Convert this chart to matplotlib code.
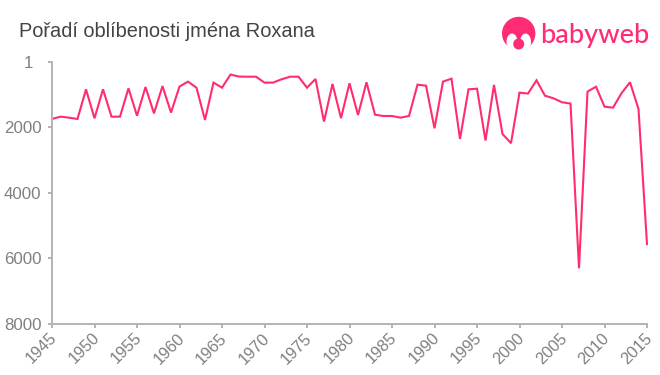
import matplotlib
matplotlib.use("Agg")
import matplotlib.pyplot as plt
from matplotlib.patches import Circle, Ellipse, Rectangle
from matplotlib.transforms import ScaledTranslation

title = "Pořadí oblíbenosti jména Roxana"
brand = "babyweb"
years = list(range(1945, 2016))
ranks = [1740, 1670, 1700, 1740, 835, 1720, 835, 1670, 1670, 805,
         1640, 765, 1570, 735, 1545, 750, 600, 785, 1770, 630,
         785, 385, 445, 450, 450, 630, 630, 530, 450, 450,
         785, 520, 1820, 670, 1715, 650, 1620, 620, 1610, 1650,
         1650, 1700, 1650, 693, 723, 2025, 600, 510, 2350, 835,
         815, 2400, 700, 2200, 2480, 935, 965, 560, 1030, 1110,
         1230, 1270, 6300, 905, 755, 1365, 1395, 955, 620, 1435,
         5560]
y_ticks = [1, 2000, 4000, 6000, 8000]
x_ticks = list(range(1945, 2016, 5))

PINK = "#ff2d6d"
LOGO = "#ff2b77"
GREY = "#b3b3b3"
LABEL = "#808080"
W, H = 660, 375

plt.rcParams["font.family"] = ["Liberation Sans", "DejaVu Sans"]
fig = plt.figure(figsize=(W / 100, H / 100), dpi=100)
ax = fig.add_axes([52 / W, 1 - 324 / H, (647 - 52) / W, (324 - 62) / H])
ax.plot(years, ranks, color=PINK, lw=1.5, solid_joinstyle="miter", clip_on=False)
ax.set_xlim(1945, 2015)
ax.set_ylim(8000, 1)
ax.set_yticks(y_ticks)
ax.set_yticklabels([str(v) for v in y_ticks], fontsize=12.2, color=LABEL)
ax.set_xticks(x_ticks)
ax.set_xticklabels([str(v) for v in x_ticks], fontsize=11.8, color=LABEL,
                   rotation=45, ha="right", rotation_mode="anchor")
ax.tick_params(axis="both", color=GREY, width=1.4, length=3, pad=3)
ax.tick_params(axis="y", pad=4.5)
ax.tick_params(axis="x", pad=1.5)
shift = ScaledTranslation(-2 / 72, 0, fig.dpi_scale_trans)
for lab in ax.get_xticklabels():
    lab.set_transform(lab.get_transform() + shift)
first = ax.get_yticklabels()[0]
first.set_transform(first.get_transform() + ScaledTranslation(-6 / 72, 0, fig.dpi_scale_trans))
for side in ("top", "right"):
    ax.spines[side].set_visible(False)
for side in ("left", "bottom"):
    ax.spines[side].set_color(GREY)
    ax.spines[side].set_linewidth(1.4)

fig.text(19 / W, 1 - 37 / H, title, fontsize=14.4, color="#444444", va="baseline")

# logo, in pixel coordinates
lg = fig.add_axes([0, 0, 1, 1], facecolor="none")
lg.set_xlim(0, W)
lg.set_ylim(H, 0)
lg.axis("off")
lg.add_patch(Circle((518.7, 33.5), 16.7, color=LOGO, lw=0))
lg.add_patch(Ellipse((512, 42), 11, 17, color="white", lw=0))
lg.add_patch(Ellipse((525.5, 42), 11, 17, color="white", lw=0))
lg.add_patch(Rectangle((510, 41), 17, 12, color="white", lw=0))
lg.add_patch(Circle((518.7, 44), 5.5, color=LOGO, lw=0))
lg.text(540.5, 42.7, brand, fontsize=19.5, color=LOGO, family="Lato", weight="medium", va="baseline")

fig.savefig("out.png", dpi=100)
